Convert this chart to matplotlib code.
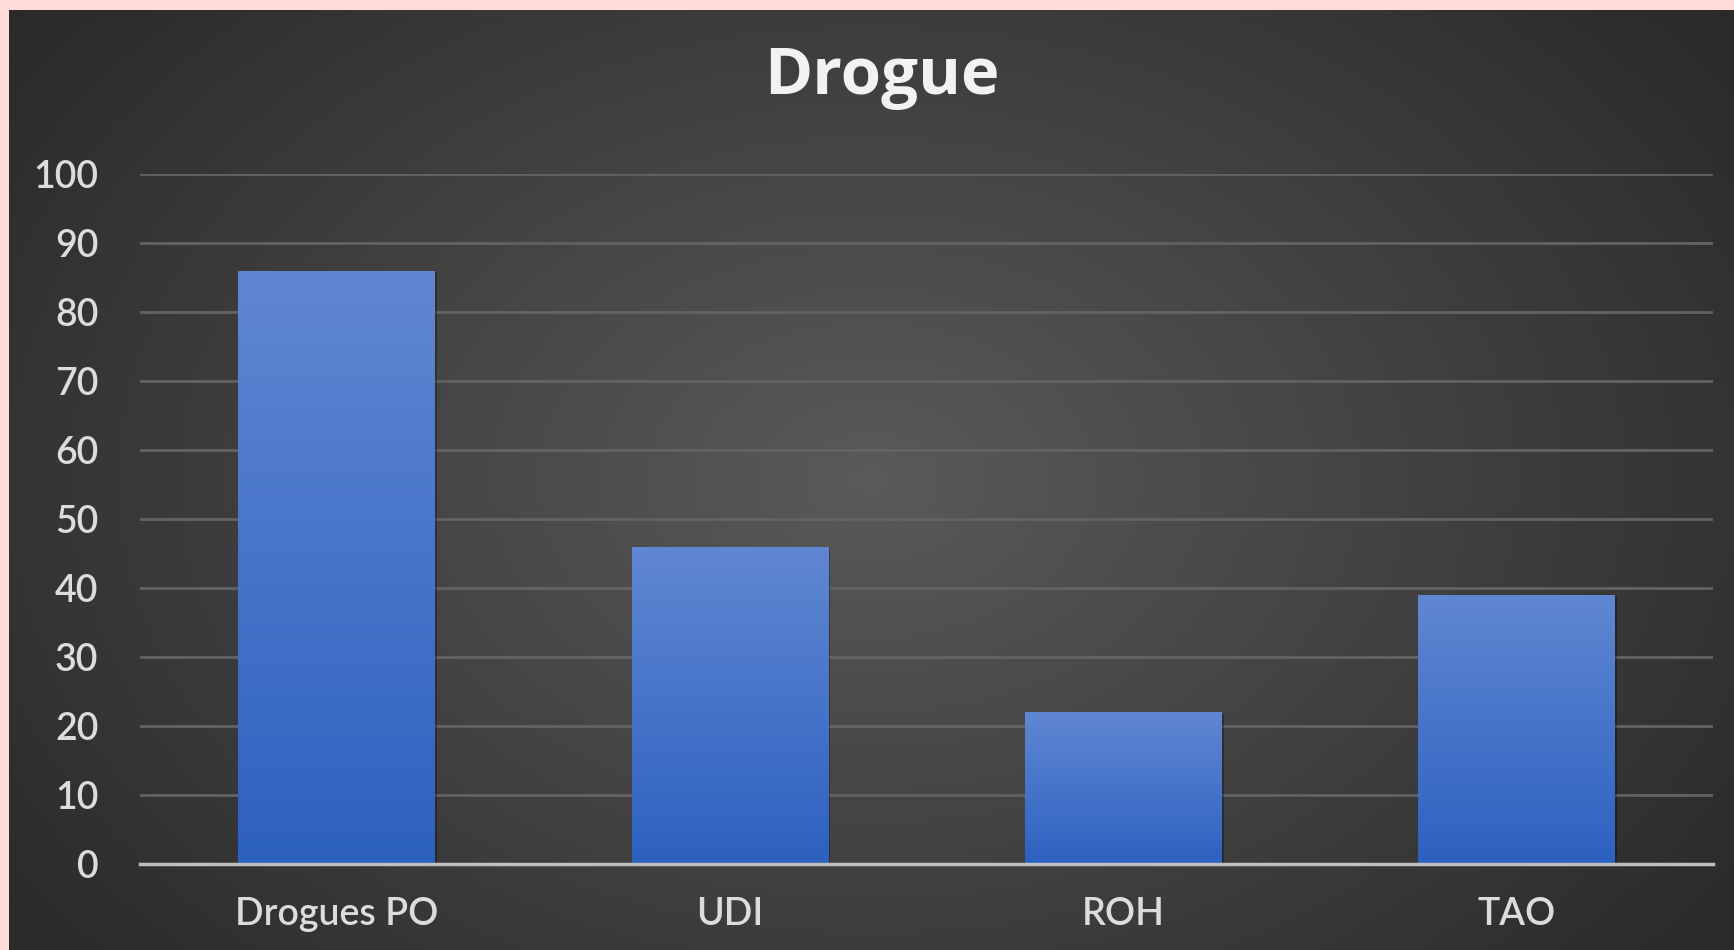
import numpy as np
import matplotlib.pyplot as plt
from matplotlib import patheffects as pe
from matplotlib.colors import LinearSegmentedColormap

categories = ['Drogues PO', 'UDI', 'ROH', 'TAO']
values = [86, 46, 22, 39]
yticks = [0, 10, 20, 30, 40, 50, 60, 70, 80, 90, 100]
title = 'Drogue'

W, H = 1734, 950
fig = plt.figure(figsize=(W / 100, H / 100), dpi=100, facecolor='#fddcd9')

# dark panel with radial shading
bg = fig.add_axes([9 / W, 0, 1 - 9 / W, 1 - 10 / H])
bg.set_axis_off()
yy, xx = np.mgrid[0:1:300j, 0:1:600j]
r = np.sqrt(((xx - 0.5) / 0.62) ** 2 + ((yy - 0.5) / 0.8) ** 2)
bgcmap = LinearSegmentedColormap.from_list('bg', ['#2a2a2a', '#5a5a5a'])
bg.imshow(np.clip(1 - r, 0, 1), cmap=bgcmap, aspect='auto', extent=(0, 1, 0, 1), vmin=0, vmax=1)
bg.set_xlim(0, 1)
bg.set_ylim(0, 1)

# chart
ax = fig.add_axes([140 / W, 1 - 864 / H, (1713 - 140) / W, (864 - 174) / H])
ax.patch.set_alpha(0)

x = np.arange(len(categories))
bars = ax.bar(x, values, width=0.5, color='#4472c4', zorder=3,
              path_effects=[pe.SimplePatchShadow(offset=(1.5, -1), shadow_rgbFace='black', alpha=0.3), pe.Normal()])

barcmap = LinearSegmentedColormap.from_list('bar', ['#2d61c0', '#6087d2'])
grad = np.linspace(1, 0, 256).reshape(-1, 1)
for b in bars:
    im = ax.imshow(grad, cmap=barcmap, aspect='auto', zorder=4,
                   extent=[b.get_x(), b.get_x() + b.get_width(), 0, b.get_height()])
    im.set_clip_path(b)

ax.set_xlim(-0.5, len(categories) - 0.5)
ax.set_ylim(0, 100)
ax.set_yticks(yticks)
ax.set_xticks(x)
ax.set_xticklabels(categories)

ax.yaxis.grid(True, color='#636363', lw=2)
ax.set_axisbelow(True)
for s in ['left', 'right', 'top']:
    ax.spines[s].set_visible(False)
ax.spines['bottom'].set_color('#bfbfbf')
ax.spines['bottom'].set_linewidth(2.5)
ax.spines['bottom'].set_zorder(5)

ax.tick_params(axis='both', length=0, colors='#dcdcdc', labelsize=27)
ax.tick_params(axis='y', pad=30)
ax.tick_params(axis='x', pad=24)
for lab in ax.get_xticklabels() + ax.get_yticklabels():
    lab.set_family('Lato')
    lab.set_fontweight('semibold')

fig.text(882 / W, 1 - 77 / H, title, ha='center', va='center', fontsize=47,
         fontweight='bold', family='Open Sans', color='#f2f2f2')

fig.savefig('out.png', dpi=100, facecolor=fig.get_facecolor())
